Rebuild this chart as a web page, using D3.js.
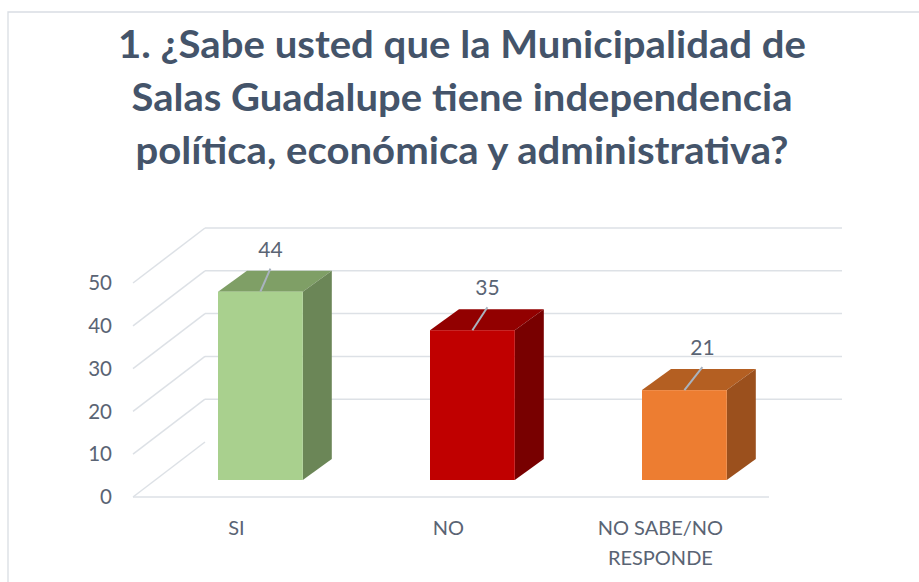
<!DOCTYPE html>
<html>
<head>
<meta charset="utf-8">
<script src="https://cdn.jsdelivr.net/npm/d3@7"></script>
<style>
  body { margin: 0; background: #fff; }
  svg { display: block; }
</style>
</head>
<body>
<div id="chart"></div>
<script>
// data
var titleLines = [
  "1. ¿Sabe usted que la Municipalidad de",
  "Salas Guadalupe tiene independencia",
  "política, económica y administrativa?"
];
var categories = ["SI", "NO", "NO SABE/NO RESPONDE"];
var values = [44, 35, 21];
var yTicks = [0, 10, 20, 30, 40, 50];

// palette: front / top / side faces
var frontColors = ["#a9d08e", "#c00000", "#ed7d31"];
var topColors = ["#7f9f66", "#920000", "#b45f22"];
var sideColors = ["#6b8657", "#780000", "#9b501d"];

var width = 919, height = 582;
var textColor = "#44546a", tickColor = "#5a6474", gridColor = "#dde1e6";

var svg = d3
  .select("#chart")
  .append("svg")
  .attr("width", width)
  .attr("height", height);

// chart frame (only top/left edges visible)
svg.append("path")
  .attr("d", "M8,582 V12 H919")
  .attr("fill", "none")
  .attr("stroke", "#d9dde3")
  .attr("stroke-width", 1.3);

// title
var titleW = [688, 661, 653];
svg.append("g")
  .selectAll("text")
  .data(titleLines)
  .enter()
  .append("text")
  .attr("x", 462)
  .attr("y", function (d, i) { return 58 + i * 53; })
  .attr("text-anchor", "middle")
  .attr("font-family", "Lato, Carlito, Calibri, sans-serif")
  .attr("font-weight", "bold")
  .attr("font-size", 38)
  .attr("fill", textColor)
  .attr("textLength", function (d, i) { return titleW[i]; })
  .attr("lengthAdjust", "spacingAndGlyphs")
  .text(function (d) { return d; });

// scales: back wall, front floor edge, bars
var yBack = d3.scaleLinear().domain([0, 50]).range([442, 228]);
var yFront = d3.scaleLinear().domain([0, 50]).range([497, 283]);
var yBar = d3.scaleLinear().domain([0, 50]).range([480, 266]);
var x = d3.scaleBand().domain(categories).range([154.4, 790.4])
  .paddingInner(0.6).paddingOuter(0.3);

var backX0 = 205, backX1 = 842, frontX0 = 133, frontX1 = 769;

// back wall gridlines
var grid = svg.append("g").attr("stroke", gridColor).attr("stroke-width", 1.5).attr("fill", "none");
grid.selectAll(".back")
  .data(yTicks.filter(function (t) { return t > 0; }))
  .enter()
  .append("line")
  .attr("x1", backX0).attr("x2", backX1)
  .attr("y1", function (d) { return yBack(d); })
  .attr("y2", function (d) { return yBack(d); });

// side wall diagonals
grid.selectAll(".side")
  .data(yTicks)
  .enter()
  .append("line")
  .attr("x1", frontX0).attr("x2", backX0)
  .attr("y1", function (d) { return yFront(d); })
  .attr("y2", function (d) { return yBack(d); });

// floor front edge
grid.append("line")
  .attr("x1", frontX0).attr("x2", frontX1)
  .attr("y1", yFront(0)).attr("y2", yFront(0));

// y tick labels
svg.append("g")
  .selectAll("text")
  .data(yTicks)
  .enter()
  .append("text")
  .attr("x", 112)
  .attr("y", function (d) { return yFront(d); })
  .attr("dy", "0.35em")
  .attr("text-anchor", "end")
  .attr("font-family", "Lato, Carlito, Calibri, sans-serif")
  .attr("font-size", 20.5)
  .attr("fill", tickColor)
  .text(function (d) { return d; });

// 3d bars
var ddx = 29, ddy = -21;
var bars = svg.append("g")
  .selectAll("g")
  .data(values)
  .enter()
  .append("g");

bars.append("path") // top face
  .attr("d", function (d, i) {
    var x0 = x(categories[i]), x1 = x0 + x.bandwidth(), y0 = yBar(d);
    return "M" + x0 + "," + y0 + "L" + (x0 + ddx) + "," + (y0 + ddy) +
      "L" + (x1 + ddx) + "," + (y0 + ddy) + "L" + x1 + "," + y0 + "Z";
  })
  .attr("fill", function (d, i) { return topColors[i]; });

bars.append("path") // side face
  .attr("d", function (d, i) {
    var x1 = x(categories[i]) + x.bandwidth(), y0 = yBar(d), yb = yBar(0);
    return "M" + x1 + "," + y0 + "L" + (x1 + ddx) + "," + (y0 + ddy) +
      "L" + (x1 + ddx) + "," + (yb + ddy) + "L" + x1 + "," + yb + "Z";
  })
  .attr("fill", function (d, i) { return sideColors[i]; });

bars.append("rect") // front face
  .attr("x", function (d, i) { return x(categories[i]); })
  .attr("y", function (d) { return yBar(d); })
  .attr("width", x.bandwidth())
  .attr("height", function (d) { return yBar(0) - yBar(d); })
  .attr("fill", function (d, i) { return frontColors[i]; });

// data labels with leader lines
var lblDx = [10, 15, 18];
bars.append("line")
  .attr("x1", function (d, i) { return x(categories[i]) + x.bandwidth() / 2; })
  .attr("y1", function (d) { return yBar(d); })
  .attr("x2", function (d, i) { return x(categories[i]) + x.bandwidth() / 2 + lblDx[i]; })
  .attr("y2", function (d) { return yBar(d) - 23; })
  .attr("stroke", "#a9b3bf")
  .attr("stroke-width", 2);

bars.append("text")
  .attr("x", function (d, i) { return x(categories[i]) + x.bandwidth() / 2 + lblDx[i]; })
  .attr("y", function (d) { return yBar(d) - 35; })
  .attr("text-anchor", "middle")
  .attr("font-family", "Lato, Carlito, Calibri, sans-serif")
  .attr("font-size", 21)
  .attr("fill", tickColor)
  .text(function (d) { return d; });

// category labels (sit on the front floor edge, shifted left by perspective)
svg.append("g")
  .selectAll("text")
  .data(categories)
  .enter()
  .append("text")
  .attr("x", function (d) { return x(d) + x.bandwidth() / 2 - 24; })
  .attr("y", 535)
  .attr("text-anchor", "middle")
  .attr("font-family", "Lato, Carlito, Calibri, sans-serif")
  .attr("font-size", 20)
  .attr("fill", tickColor)
  .text(function (d) { return d; })
  .call(wrap, 140);

function wrap(text, maxW) {
  text.each(function () {
    var t = d3.select(this), words = t.text().split(" "), line = [],
      xx = t.attr("x");
    t.text(null);
    var span = t.append("tspan").attr("x", xx);
    words.forEach(function (w) {
      line.push(w);
      span.text(line.join(" "));
      if (span.node().getComputedTextLength() > maxW && line.length > 1) {
        line.pop();
        span.text(line.join(" "));
        line = [w];
        span = t.append("tspan").attr("x", xx).attr("dy", 30).text(w);
      }
    });
  });
}
</script>
</body>
</html>
